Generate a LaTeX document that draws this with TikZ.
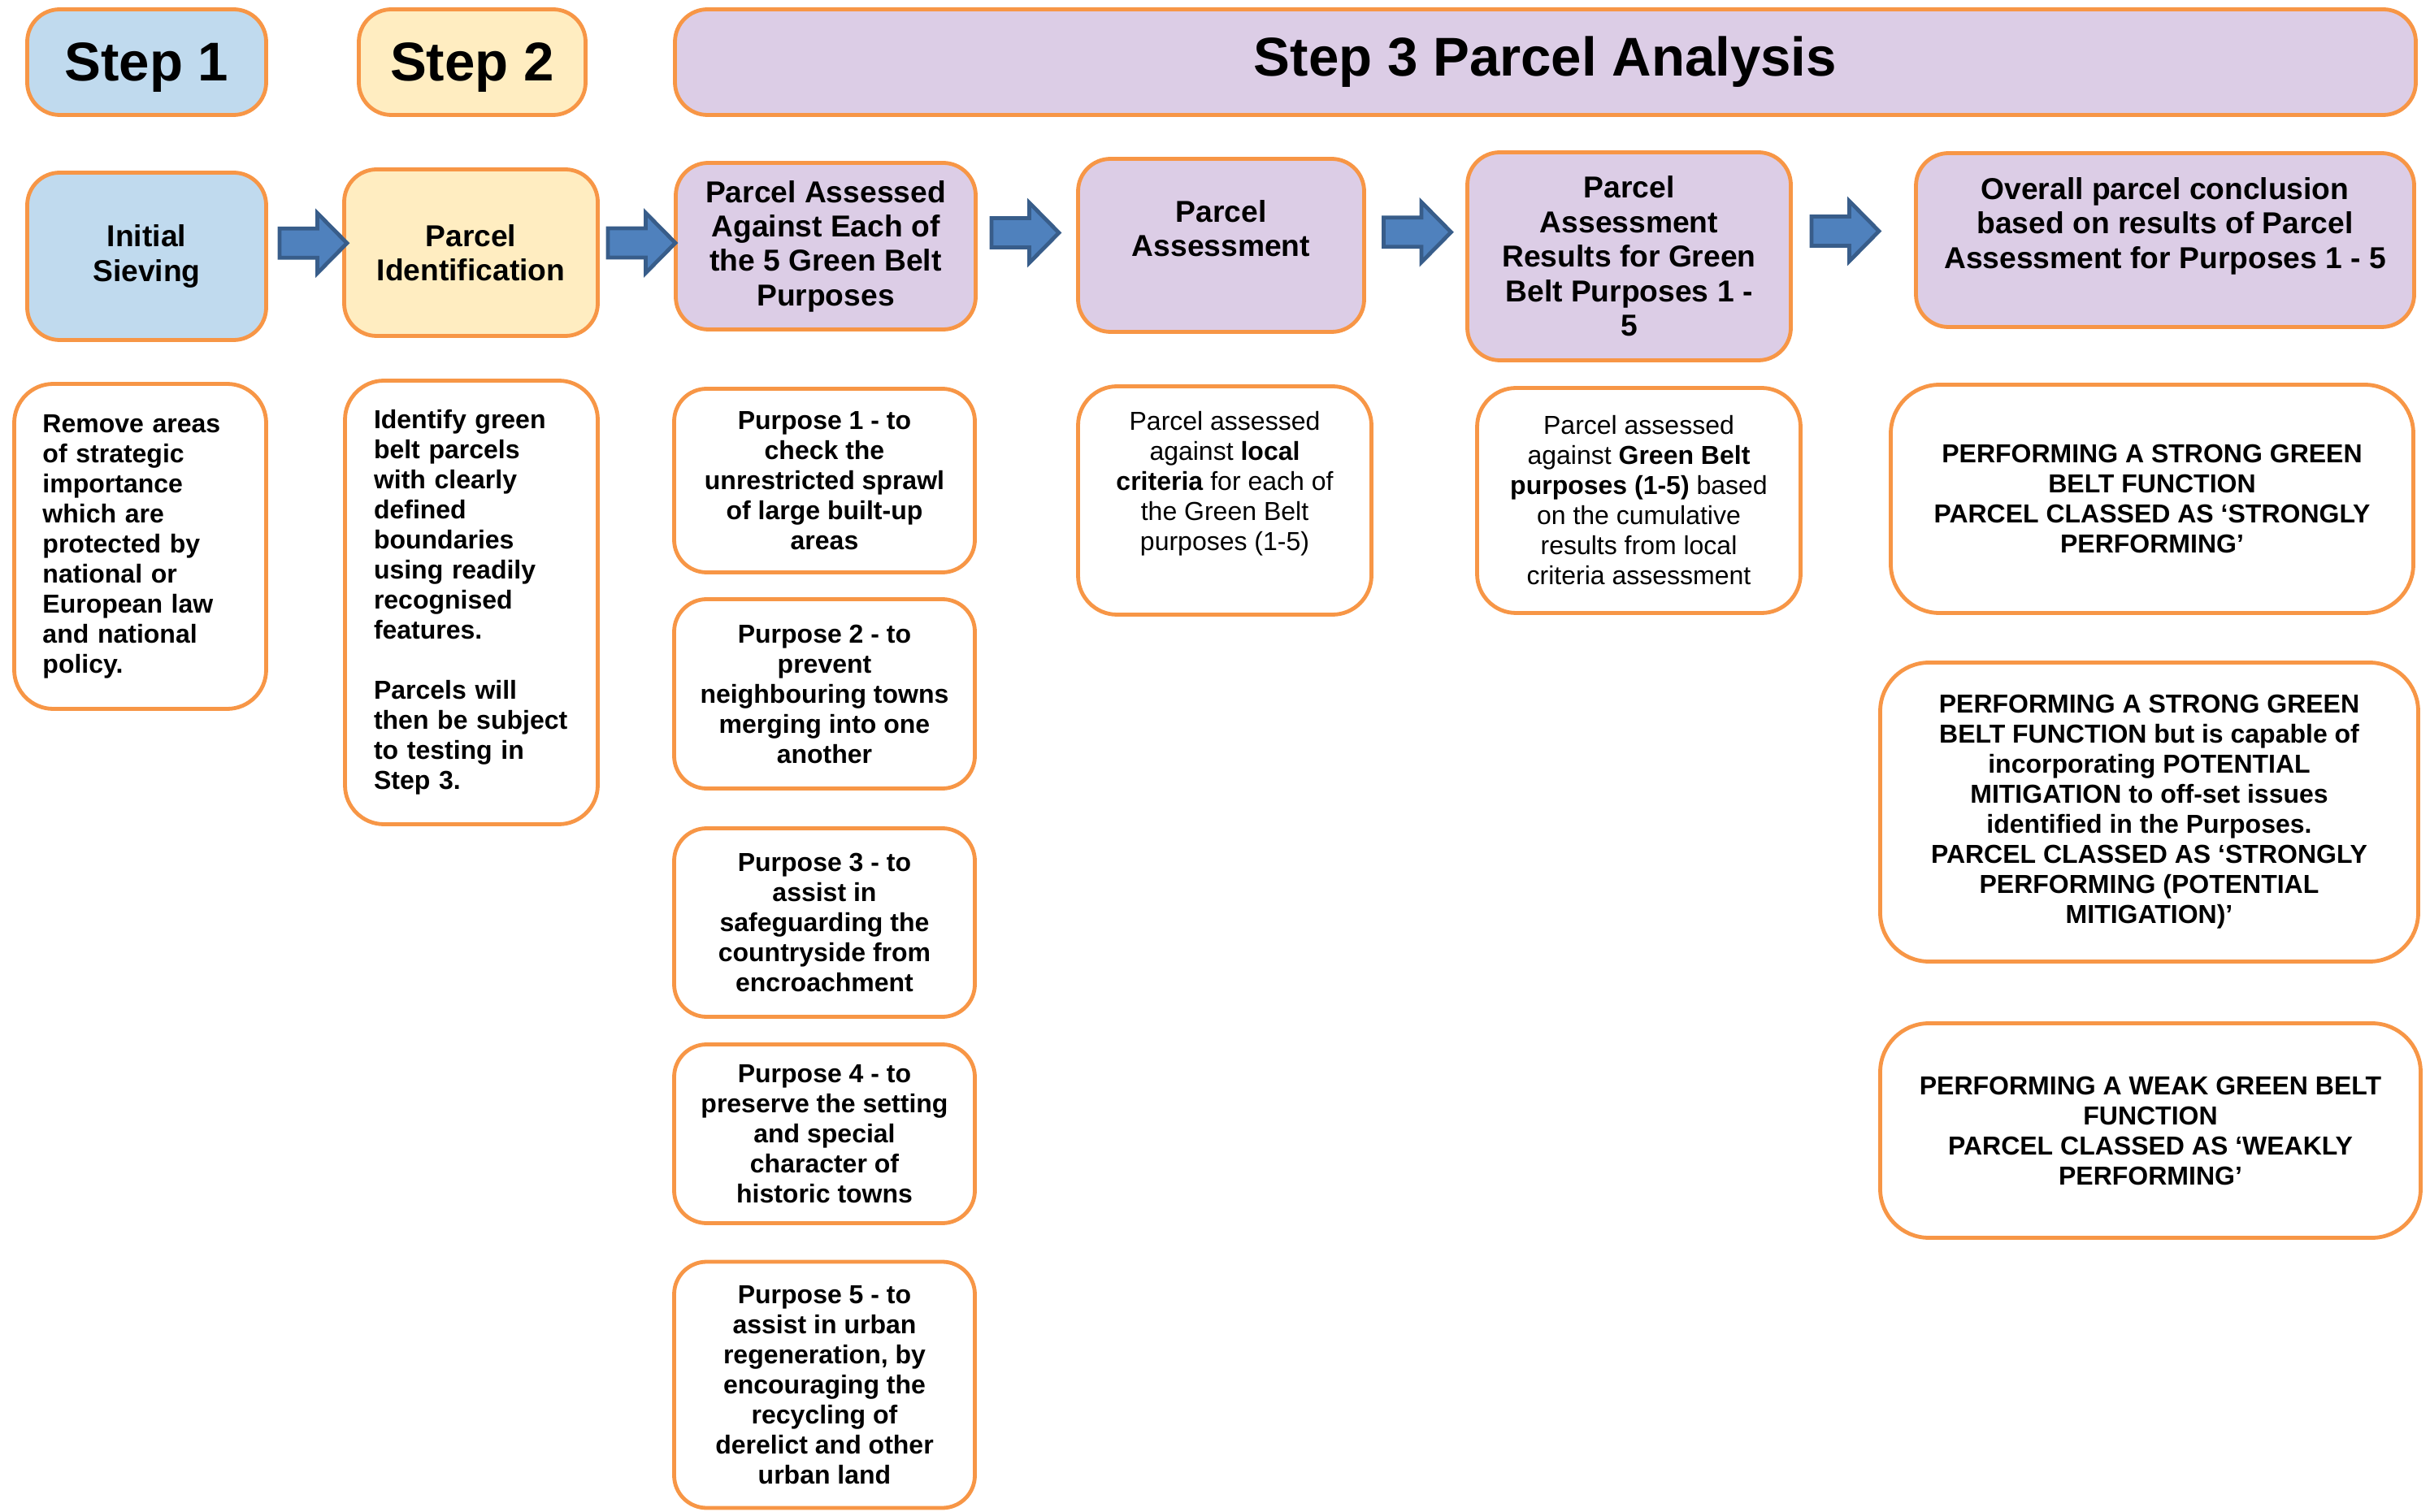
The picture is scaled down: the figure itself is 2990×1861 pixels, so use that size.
\documentclass[tikz,border=0pt]{standalone}
\usepackage{fontspec}
\setmainfont{Liberation Sans}
\usepackage{tikz}
\usetikzlibrary{calc}
\usepackage{color}
\definecolor{carrot}{RGB}{247, 150, 70}
\definecolor{skyblue}{RGB}{192, 218, 238}
\definecolor{cream}{RGB}{255, 237, 193}
\definecolor{lavender}{RGB}{220, 205, 230}
\definecolor{steelblue}{RGB}{79, 129, 189}
\definecolor{navyedge}{RGB}{56, 93, 138}

\tikzset{
  stage/.style   = {draw=carrot, line width=1.2pt, rounded corners=10pt, align=center, inner sep=0pt},
  heading/.style = {stage, font=\fontsize{16.8}{20}\selectfont\bfseries},
  title/.style   = {stage, font=\fontsize{9.3}{10.6}\selectfont\bfseries},
  note/.style    = {stage, fill=white, font=\fontsize{8}{9.25}\selectfont},
  flow/.style    = {draw=navyedge, fill=steelblue, line width=1.2pt, line join=miter},
  flowpath/.style = {insert path={++(-41.5,-18) -- ++(46.5,0) -- ++(0,-19) -- ++(36.5,37)
                                  -- ++(-36.5,37) -- ++(0,-19) -- ++(-46.5,0) -- cycle}},
}

\begin{document}
\begin{tikzpicture}[x=0.25pt, y=-0.25pt]
    \useasboundingbox (0,0) rectangle (2990,1861);

    % step headings
    \node[heading, fill=skyblue,  text depth=0pt, minimum width=73.5pt,  minimum height=32.5pt] (step1) at ( 180.5, 76.5) {Step 1};
    \node[heading, fill=cream,    text depth=0pt, minimum width=69.75pt, minimum height=32.5pt] (step2) at ( 581.0, 76.5) {Step 2};
    \node[heading, fill=lavender, minimum width=535.5pt, minimum height=32.5pt] (step3) at (1901.5, 76.5) {Step 3 Parcel Analysis};

    % stages
    \node[title, fill=skyblue,  minimum width=73.5pt,   minimum height=51.5pt]  (sieve)    at ( 180.5, 315.5) {Initial\\Sieving};
    \node[title, fill=cream,    minimum width=78pt,     minimum height=51.25pt] (ident)    at ( 579.5, 311.0) {Parcel\\Identification};
    \node[title, fill=lavender, minimum width=92.25pt,  minimum height=51.25pt] (assessed) at (1016.0, 303.0) {Parcel Assessed\\Against Each of\\the 5 Green Belt\\Purposes};
    \node[title, fill=lavender, minimum width=88pt,     minimum height=53.25pt] (assess)   at (1502.5, 302.0) {Parcel\\Assessment\\\mbox{}};
    \node[title, fill=lavender, minimum width=99.5pt,   minimum height=64pt]    (results)  at (2004.5, 315.5) {Parcel\\Assessment\\Results for Green\\Belt Purposes 1 -\\5};
    \node[title, fill=lavender, minimum width=153.25pt, minimum height=53.5pt]  (overall)  at (2664.0, 295.5) {Overall parcel conclusion\\based on results of Parcel\\Assessment for Purposes 1 - 5\\\mbox{}};

    % block arrows
    \coordinate (arr1) at ($(sieve.east)!0.5!(ident.west)+(10,-14)$);
    \coordinate (arr2) at ($(ident.east)!0.5!(assessed.west)+(6,-8)$);
    \coordinate (arr3) at ($(assessed.east)!0.5!(assess.west)+(-2,-16)$);
    \coordinate (arr4) at ($(assess.east)!0.5!(results.west)+(2,-23)$);
    \coordinate (arr5) at ($(results.east)!0.5!(overall.west)+(-10,-21)$);
    \draw[flow] (arr1) [flowpath];
    \draw[flow] (arr2) [flowpath];
    \draw[flow] (arr3) [flowpath];
    \draw[flow] (arr4) [flowpath];
    \draw[flow] (arr5) [flowpath];

    % details
    \node[note, font=\fontsize{8}{9.25}\selectfont\bfseries, align=left, text width=60pt,
          rounded corners=12pt, minimum width=77.5pt, minimum height=100pt] (remove) at (172.5, 672.5)
        {Remove areas\\of strategic\\importance\\which are\\protected by\\national or\\European law\\and national\\policy.};
    \node[note, font=\fontsize{8}{9.25}\selectfont\bfseries, align=left, text width=60pt,
          rounded corners=12pt, minimum width=77.75pt, minimum height=136.5pt] (identify) at (580.0, 741.5)
        {Identify green\\belt parcels\\with clearly\\defined\\boundaries\\using readily\\recognised\\features.\\[9.25pt]Parcels will\\then be subject\\to testing in\\Step 3.};

    \node[note, font=\fontsize{8}{9.25}\selectfont\bfseries, minimum width=92.5pt, minimum height=56.5pt]  (purp1) at (1014.5,  591.5)
        {Purpose 1 - to\\check the\\unrestricted sprawl\\of large built-up\\areas};
    \node[note, font=\fontsize{8}{9.25}\selectfont\bfseries, minimum width=92.5pt, minimum height=58.25pt] (purp2) at (1014.5,  854.0)
        {Purpose 2 - to\\prevent\\neighbouring towns\\merging into one\\another};
    \node[note, font=\fontsize{8}{9.25}\selectfont\bfseries, minimum width=92.5pt, minimum height=58pt]    (purp3) at (1014.5, 1135.5)
        {Purpose 3 - to\\assist in\\safeguarding the\\countryside from\\encroachment};
    \node[note, font=\fontsize{8}{9.25}\selectfont\bfseries, minimum width=92.5pt, minimum height=55pt]    (purp4) at (1014.5, 1395.5)
        {Purpose 4 - to\\preserve the setting\\and special\\character of\\historic towns};
    \node[note, font=\fontsize{8}{9.25}\selectfont\bfseries, minimum width=92.5pt, minimum height=75.75pt] (purp5) at (1014.5, 1704.5)
        {Purpose 5 - to\\assist in urban\\regeneration, by\\encouraging the\\recycling of\\derelict and other\\urban land};

    \node[note, rounded corners=12pt, minimum width=90.25pt, minimum height=70.25pt] (local) at (1507.0, 616.0)
        {Parcel assessed\\against \textbf{local}\\\textbf{criteria} for each of\\the Green Belt\\purposes (1-5)\\[3pt]\mbox{}};
    \node[note, rounded corners=12pt, minimum width=99.5pt, minimum height=69.25pt] (gbres) at (2016.5, 616.0)
        {Parcel assessed\\against \textbf{Green Belt}\\\textbf{purposes (1-5)} based\\on the cumulative\\results from local\\criteria assessment};

    \node[note, font=\fontsize{8}{9.25}\selectfont\bfseries, rounded corners=15pt, minimum width=160.75pt, minimum height=70.25pt] (strong) at (2648.0, 614.0)
        {PERFORMING A STRONG GREEN\\BELT FUNCTION\\PARCEL CLASSED AS ‘STRONGLY\\PERFORMING’};
    \node[note, font=\fontsize{8}{9.25}\selectfont\bfseries, rounded corners=15pt, minimum width=165.5pt, minimum height=92pt] (mitig) at (2644.5, 999.5)
        {PERFORMING A STRONG GREEN\\BELT FUNCTION but is capable of\\incorporating POTENTIAL\\MITIGATION to off-set issues\\identified in the Purposes.\\PARCEL CLASSED AS ‘STRONGLY\\PERFORMING (POTENTIAL\\MITIGATION)’};
    \node[note, font=\fontsize{8}{9.25}\selectfont\bfseries, rounded corners=15pt, minimum width=166.25pt, minimum height=66pt] (weak) at (2646.0, 1391.5)
        {PERFORMING A WEAK GREEN BELT\\FUNCTION\\PARCEL CLASSED AS ‘WEAKLY\\PERFORMING’};
\end{tikzpicture}
\end{document}
